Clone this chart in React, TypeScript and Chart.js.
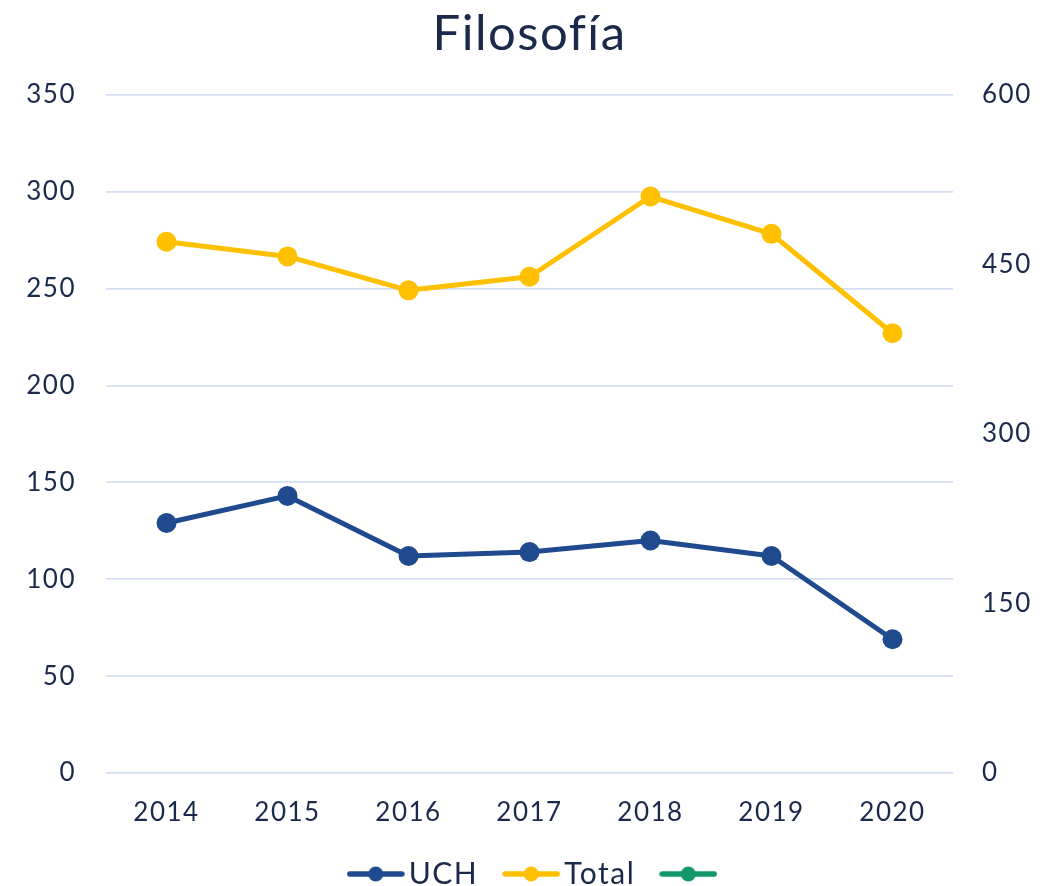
import React, { useEffect, useRef } from "react";
import { Chart, registerables } from "chart.js";

Chart.register(...registerables);

const title = "Filosofía";
const years = ["2014", "2015", "2016", "2017", "2018", "2019", "2020"];
const uchValues = [129, 143, 112, 114, 120, 112, 69];
const totalValues = [470, 457, 427, 439, 510, 477, 389];
const otherValues: (number | null)[] = [null, null, null, null, null, null, null];
const leftTicks = [0, 50, 100, 150, 200, 250, 300, 350];
const rightTicks = [0, 150, 300, 450, 600];

const UCH_COLOR = "#1F4A8E";
const TOTAL_COLOR = "#FFC000";
const OTHER_COLOR = "#139869";
const TEXT_COLOR = "#1B2A4A";
const GRID_COLOR = "#D4DFF2";
const FONT = "Lato, 'Open Sans', sans-serif";

function legendSymbol(color: string): HTMLCanvasElement {
  const c = document.createElement("canvas");
  c.width = 58;
  c.height = 18;
  const ctx = c.getContext("2d")!;
  ctx.strokeStyle = color;
  ctx.lineWidth = 5.5;
  ctx.lineCap = "round";
  ctx.beginPath();
  ctx.moveTo(3, 9);
  ctx.lineTo(55, 9);
  ctx.stroke();
  ctx.fillStyle = color;
  ctx.beginPath();
  ctx.arc(29, 9, 7.5, 0, Math.PI * 2);
  ctx.fill();
  return c;
}

const spacingPlugin = {
  id: "letterSpacing",
  beforeLayout(chart: any) {
    chart.ctx.letterSpacing = "1.5px";
  },
  afterLayout(chart: any) {
    if (chart.legend) {
      chart.legend.left += 10;
      chart.legend.right += 10;
    }
  },
  beforeDraw(chart: any) {
    chart.ctx.letterSpacing = "1.5px";
  },
};

export default function App() {
  const ref = useRef<HTMLCanvasElement | null>(null);

  useEffect(() => {
    if (!ref.current) return;
    const symbols = [legendSymbol(UCH_COLOR), legendSymbol(TOTAL_COLOR), legendSymbol(OTHER_COLOR)];
    const chart = new Chart(ref.current, {
      type: "line",
      plugins: [spacingPlugin],
      data: {
        labels: years,
        datasets: [
          {
            label: "UCH",
            data: uchValues,
            yAxisID: "y",
            borderColor: UCH_COLOR,
            backgroundColor: UCH_COLOR,
            borderWidth: 5,
            pointRadius: 10,
            pointBorderWidth: 0,
            pointBackgroundColor: UCH_COLOR,
            borderCapStyle: "round",
            borderJoinStyle: "round",
            tension: 0,
          },
          {
            label: "Total",
            data: totalValues,
            yAxisID: "y1",
            borderColor: TOTAL_COLOR,
            backgroundColor: TOTAL_COLOR,
            borderWidth: 5,
            pointRadius: 10,
            pointBorderWidth: 0,
            pointBackgroundColor: TOTAL_COLOR,
            borderCapStyle: "round",
            borderJoinStyle: "round",
            tension: 0,
          },
          {
            label: "",
            data: otherValues,
            yAxisID: "y",
            borderColor: OTHER_COLOR,
            backgroundColor: OTHER_COLOR,
            borderWidth: 5,
            pointRadius: 10,
            pointBorderWidth: 0,
          },
        ],
      },
      options: {
        animation: false,
        responsive: true,
        maintainAspectRatio: false,
        layout: { padding: { top: 0, bottom: -13, left: 0, right: 0 } },
        plugins: {
          tooltip: { enabled: false },
          title: {
            display: true,
            text: title,
            color: TEXT_COLOR,
            fullSize: false,
            font: { family: FONT, size: 49, weight: "normal", lineHeight: 1.2 },
            padding: { top: 5, bottom: 31 },
          },
          legend: {
            display: true,
            position: "bottom",
            fullSize: false,
            labels: {
              color: TEXT_COLOR,
              font: { family: FONT, size: 30, weight: "normal" },
              usePointStyle: true,
              pointStyleWidth: 36,
              padding: 35,
              generateLabels: (ch: any) =>
                ch.data.datasets.map((ds: any, i: number) => ({
                  text: ds.label,
                  fillStyle: ds.borderColor,
                  strokeStyle: ds.borderColor,
                  lineWidth: 0,
                  pointStyle: symbols[i],
                  hidden: false,
                  datasetIndex: i,
                  fontColor: TEXT_COLOR,
                })),
            },
          },
        },
        scales: {
          x: {
            type: "category",
            offset: true,
            grid: { display: false },
            border: { display: false },
            ticks: {
              color: TEXT_COLOR,
              font: { family: FONT, size: 26, weight: "normal" },
              padding: 16,
              maxRotation: 0,
            },
            afterFit: (s: any) => {
              s.height = 51;
            },
          },
          y: {
            position: "left",
            min: 0,
            max: 350,
            afterBuildTicks: (s: any) => {
              s.ticks = leftTicks.map((v) => ({ value: v }));
            },
            grid: { color: GRID_COLOR, lineWidth: 1.7, drawTicks: false },
            border: { display: false },
            ticks: {
              color: TEXT_COLOR,
              font: { family: FONT, size: 26, weight: "normal" },
              padding: 30,
            },
            afterFit: (s: any) => {
              s.width = 106;
            },
          },
          y1: {
            position: "right",
            min: 0,
            max: 600,
            afterBuildTicks: (s: any) => {
              s.ticks = rightTicks.map((v) => ({ value: v }));
            },
            grid: { display: false, drawTicks: false },
            border: { display: false },
            ticks: {
              color: TEXT_COLOR,
              font: { family: FONT, size: 26, weight: "normal" },
              padding: 29,
            },
            afterFit: (s: any) => {
              s.width = 97;
            },
          },
        },
      },
    });
    return () => chart.destroy();
  }, []);

  return (
    <div style={{ position: "fixed", left: 0, top: 0, width: 1050, height: 886, background: "#fff" }}>
      <canvas ref={ref} />
    </div>
  );
}
